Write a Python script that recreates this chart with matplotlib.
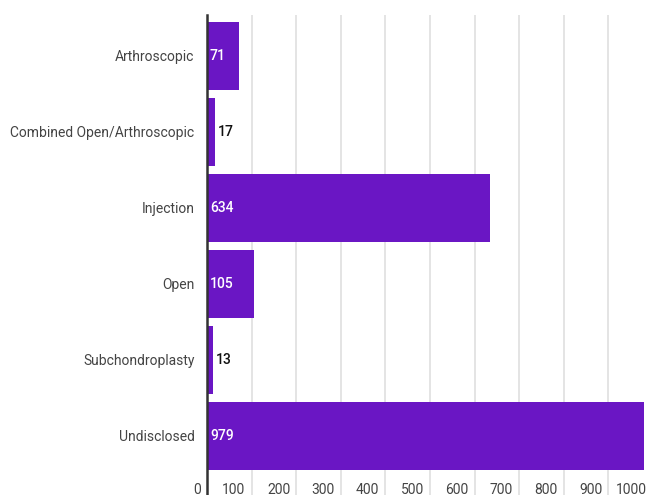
import matplotlib
matplotlib.use('Agg')
import matplotlib.pyplot as plt
import matplotlib.transforms as mtransforms

categories = ['Arthroscopic', 'Combined Open/Arthroscopic', 'Injection',
              'Open', 'Subchondroplasty', 'Undisclosed']
counts = [71, 17, 634, 105, 13, 979]
x_ticks = [0, 100, 200, 300, 400, 500, 600, 700, 800, 900, 1000]

plt.rcParams['font.family'] = ['Roboto', 'DejaVu Sans']

W, H = 646, 495
fig = plt.figure(figsize=(W / 100, H / 100), dpi=100)
# axes run a little past the right and bottom edges of the canvas
left, right, top, bottom = 207, 653, 15, 505
ax = fig.add_axes([left / W, 1 - bottom / H, (right - left) / W, (bottom - top) / H])

bar_color = '#6a16c4'
ypos = list(range(len(categories)))
ax.barh(ypos, counts, height=68 / 76, color=bar_color, zorder=2)

ax.set_xlim(0, 1000)
ax.set_ylim((bottom - 56) / 76, (top - 56) / 76)
ax.set_yticks(ypos)
ax.set_yticklabels(categories, fontsize=10, color='#444444')
ax.set_xticks(x_ticks)
ax.set_xticklabels([str(t) for t in x_ticks], fontsize=10, color='#444444')
ax.tick_params(axis='y', length=0, pad=9)
ax.tick_params(axis='x', length=0, direction='in', pad=-16)
shift = mtransforms.ScaledTranslation(-6 / 100, 0, fig.dpi_scale_trans)
for lab in ax.get_xticklabels():
    lab.set_horizontalalignment('right')
    lab.set_transform(lab.get_transform() + shift)

ax.grid(axis='x', color='#e2e2e2', linewidth=1.3, zorder=0)
for side in ['top', 'right', 'bottom']:
    ax.spines[side].set_visible(False)
ax.spines['left'].set_color('#333333')
ax.spines['left'].set_linewidth(1.8)
ax.spines['left'].set_zorder(3)

# value labels: white inside wide bars, dark just past short ones
px = mtransforms.ScaledTranslation(3 / 100, 0, fig.dpi_scale_trans)
for y, v in zip(ypos, counts):
    if v > 40:
        ax.text(0, y, str(v), color='white', fontsize=10, fontweight='medium',
                va='center', ha='left', transform=ax.transData + px, zorder=4)
    else:
        ax.text(v, y, str(v), color='#111111', fontsize=10, fontweight='medium',
                va='center', ha='left', transform=ax.transData + px, zorder=4)

fig.savefig('out.png', dpi=100)
